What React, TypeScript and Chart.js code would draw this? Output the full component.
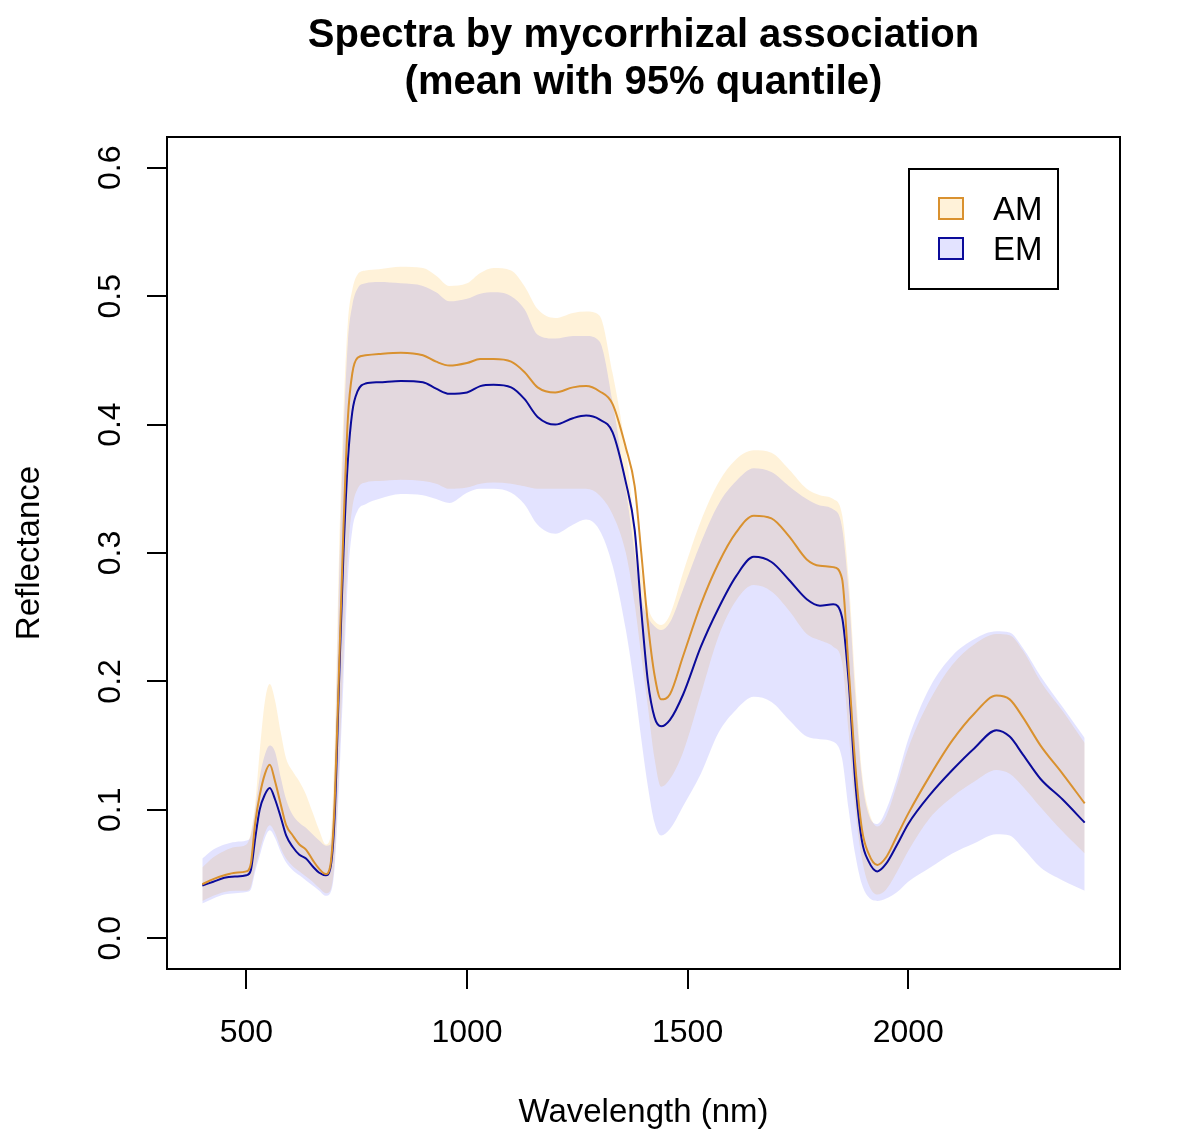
import { useEffect, useRef } from 'react';
import Chart from 'chart.js/auto';

// wavelength grid (nm)
const wavelength = [
	400, 425, 450, 475, 500, 510, 520, 530, 542, 553,
	565, 578, 590, 605, 620, 635, 650, 665, 680, 690,
	700, 710, 720, 730, 740, 752, 770, 800, 850, 900,
	930, 960, 1000, 1030, 1060, 1100, 1130, 1160, 1200, 1240,
	1270, 1300, 1330, 1360, 1380, 1395, 1410, 1425, 1440, 1460,
	1490, 1530, 1570, 1610, 1650, 1690, 1730, 1770, 1800, 1830,
	1850, 1865, 1880, 1895, 1910, 1930, 1950, 1975, 2000, 2050,
	2100, 2150, 2200, 2230, 2260, 2300, 2350, 2400,
];

const amMean = [
	0.042, 0.046, 0.049, 0.051, 0.052, 0.058, 0.09, 0.111, 0.128, 0.135,
	0.122, 0.104, 0.088, 0.08, 0.073, 0.069, 0.061, 0.054, 0.05, 0.056,
	0.105, 0.21, 0.32, 0.405, 0.44, 0.452, 0.454, 0.455, 0.456, 0.454,
	0.449, 0.446, 0.448, 0.451, 0.451, 0.449, 0.441, 0.429, 0.425, 0.429,
	0.43, 0.426, 0.416, 0.382, 0.352, 0.3, 0.245, 0.205, 0.186, 0.19,
	0.22, 0.26, 0.292, 0.316, 0.329, 0.327, 0.313, 0.295, 0.29, 0.289,
	0.28, 0.21, 0.135, 0.085, 0.066, 0.057, 0.063, 0.08, 0.097, 0.127,
	0.154, 0.175, 0.189, 0.186, 0.172, 0.15, 0.128, 0.105,
];

const emMean = [
	0.041, 0.044, 0.047, 0.048, 0.049, 0.053, 0.078, 0.1, 0.112, 0.117,
	0.108, 0.094, 0.08, 0.071, 0.065, 0.062, 0.056, 0.051, 0.049, 0.054,
	0.095, 0.2, 0.3, 0.372, 0.41, 0.426, 0.432, 0.433, 0.434, 0.433,
	0.428, 0.424, 0.425, 0.43, 0.431, 0.429, 0.42, 0.406, 0.4, 0.405,
	0.407, 0.404, 0.394, 0.355, 0.318, 0.255, 0.2, 0.172, 0.165, 0.17,
	0.19, 0.227, 0.257, 0.282, 0.297, 0.293, 0.279, 0.264, 0.259, 0.26,
	0.25, 0.2, 0.122, 0.076, 0.06, 0.052, 0.058, 0.073, 0.089, 0.112,
	0.131, 0.148, 0.162, 0.157, 0.143, 0.124, 0.108, 0.09,
];

// 95% quantile band, AM
const amHigh = [
	0.055, 0.063, 0.068, 0.071, 0.073, 0.082, 0.105, 0.145, 0.185, 0.198,
	0.185, 0.16, 0.14, 0.13, 0.122, 0.112, 0.098, 0.084, 0.073, 0.078,
	0.15, 0.3, 0.41, 0.48, 0.505, 0.517, 0.52, 0.521, 0.523, 0.522,
	0.516, 0.508, 0.51, 0.518, 0.522, 0.52, 0.508, 0.49, 0.483, 0.487,
	0.488, 0.485, 0.44, 0.38, 0.322, 0.285, 0.258, 0.247, 0.244, 0.252,
	0.285, 0.325, 0.355, 0.373, 0.38, 0.378, 0.365, 0.35, 0.345, 0.342,
	0.33, 0.28, 0.2, 0.13, 0.1, 0.087, 0.095, 0.12, 0.148, 0.186,
	0.213, 0.229, 0.237, 0.236, 0.224, 0.2, 0.177, 0.152,
];

const amLow = [
	0.029, 0.033, 0.036, 0.037, 0.037, 0.04, 0.055, 0.068, 0.082, 0.088,
	0.082, 0.07, 0.062, 0.056, 0.052, 0.048, 0.044, 0.039, 0.035, 0.037,
	0.06, 0.13, 0.22, 0.3, 0.335, 0.35, 0.355, 0.356, 0.357, 0.356,
	0.354, 0.35, 0.351, 0.354, 0.355, 0.354, 0.352, 0.35, 0.35, 0.35,
	0.35, 0.345, 0.33, 0.3, 0.26, 0.22, 0.18, 0.14, 0.118, 0.124,
	0.145, 0.19, 0.235, 0.263, 0.275, 0.27, 0.255, 0.237, 0.232, 0.227,
	0.215, 0.16, 0.1, 0.062, 0.042, 0.034, 0.038, 0.052, 0.068, 0.094,
	0.11, 0.122, 0.131, 0.128, 0.118, 0.102, 0.083, 0.066,
];

// 95% quantile band, EM
const emHigh = [
	0.062, 0.069, 0.073, 0.075, 0.076, 0.08, 0.1, 0.125, 0.143, 0.15,
	0.145, 0.125, 0.108, 0.096, 0.09, 0.086, 0.081, 0.076, 0.072, 0.073,
	0.13, 0.28, 0.39, 0.465, 0.493, 0.506, 0.51, 0.511, 0.51, 0.508,
	0.503, 0.496, 0.498, 0.502, 0.503, 0.5, 0.49, 0.47, 0.467, 0.469,
	0.469, 0.465, 0.418, 0.35, 0.3, 0.265, 0.25, 0.243, 0.24, 0.246,
	0.272, 0.308, 0.338, 0.356, 0.366, 0.363, 0.352, 0.342, 0.337, 0.334,
	0.32, 0.27, 0.19, 0.125, 0.097, 0.089, 0.1, 0.125, 0.155, 0.196,
	0.22, 0.233, 0.239, 0.238, 0.226, 0.204, 0.18, 0.156,
];

const emLow = [
	0.027, 0.031, 0.034, 0.035, 0.036, 0.038, 0.052, 0.064, 0.078, 0.084,
	0.078, 0.067, 0.059, 0.053, 0.049, 0.045, 0.041, 0.037, 0.033, 0.035,
	0.055, 0.12, 0.2, 0.28, 0.318, 0.333, 0.338, 0.342, 0.346, 0.345,
	0.342, 0.339, 0.347, 0.35, 0.35, 0.347, 0.338, 0.322, 0.315, 0.322,
	0.326, 0.318, 0.29, 0.24, 0.195, 0.155, 0.118, 0.09, 0.08, 0.085,
	0.103, 0.128, 0.16, 0.178, 0.188, 0.184, 0.17, 0.157, 0.155, 0.153,
	0.14, 0.1, 0.065, 0.042, 0.032, 0.029, 0.031, 0.036, 0.044, 0.055,
	0.066, 0.074, 0.081, 0.08, 0.07, 0.055, 0.045, 0.037,
];

const groups = ['AM', 'EM'];
const xTicks = [500, 1000, 1500, 2000];
const yTicks = [0, 0.1, 0.2, 0.3, 0.4, 0.5, 0.6];

const amLine = '#d9912f';
const emLine = '#0b0b9a';
const amFill = 'rgba(255,165,0,0.15)';
const emFill = 'rgba(0,0,255,0.11)';
const family = '"Liberation Sans", Arial, sans-serif';

const pts = (vals: number[]) => wavelength.map((w, i) => ({ x: w, y: vals[i] }));

// box round the plot and the legend, R style
const boxLegend = {
	id: 'boxLegend',
	afterDraw(chart: any) {
		const { ctx, chartArea: a } = chart;
		ctx.save();
		ctx.strokeStyle = '#000';
		ctx.lineWidth = 2;
		ctx.strokeRect(a.left, a.top, a.right - a.left, a.bottom - a.top);

		const bx = a.right - 211;
		const by = a.top + 32;
		ctx.strokeRect(bx, by, 149, 120);
		const swatches = [
			{ fill: amFill, stroke: amLine },
			{ fill: emFill, stroke: emLine },
		];
		ctx.font = `33px ${family}`;
		ctx.textBaseline = 'middle';
		ctx.textAlign = 'left';
		groups.forEach((g, i) => {
			const cy = by + 40 + i * 40;
			ctx.fillStyle = '#fff';
			ctx.fillRect(bx + 30, cy - 11, 24, 21);
			ctx.fillStyle = swatches[i].fill;
			ctx.fillRect(bx + 30, cy - 11, 24, 21);
			ctx.strokeStyle = swatches[i].stroke;
			ctx.strokeRect(bx + 30, cy - 11, 24, 21);
			ctx.fillStyle = '#000';
			ctx.fillText(g, bx + 84, cy + 2);
		});
		ctx.restore();
	},
};

export default function App() {
	const canvasRef = useRef<HTMLCanvasElement | null>(null);

	useEffect(() => {
		if (!canvasRef.current) return;
		const band = { borderWidth: 0, borderColor: 'transparent', pointRadius: 0 };
		const chart = new Chart(canvasRef.current, {
			type: 'line',
			data: {
				datasets: [
					{ label: 'AM', data: pts(amMean), borderColor: amLine, borderWidth: 2, pointRadius: 0, fill: false },
					{ label: 'EM', data: pts(emMean), borderColor: emLine, borderWidth: 2, pointRadius: 0, fill: false },
					{ label: 'EM low', data: pts(emLow), ...band, fill: false },
					{ label: 'EM high', data: pts(emHigh), ...band, backgroundColor: emFill, fill: 2 },
					{ label: 'AM low', data: pts(amLow), ...band, fill: false },
					{ label: 'AM high', data: pts(amHigh), ...band, backgroundColor: amFill, fill: 4 },
				],
			},
			options: {
				responsive: false,
				animation: false,
				devicePixelRatio: 1,
				layout: { padding: { left: 0, right: 80, top: 0, bottom: 0 } },
				elements: { line: { cubicInterpolationMode: 'monotone' } },
				plugins: {
					legend: { display: false },
					tooltip: { enabled: false },
					title: {
						display: true,
						fullSize: false,
						text: ['Spectra by mycorrhizal association', '(mean with 95% quantile)'],
						color: '#000',
						font: { family, size: 40, weight: 'bold', lineHeight: 1.165 },
						padding: { top: 13, bottom: 30.8 },
					},
				},
				scales: {
					x: {
						type: 'linear',
						min: 320,
						max: 2480,
						afterBuildTicks: (s: any) => { s.ticks = xTicks.map((v) => ({ value: v })); },
						afterFit: (s: any) => { s.height = 175; },
						border: { display: false },
						grid: { drawOnChartArea: false, drawTicks: true, tickLength: 20, color: '#000', lineWidth: 2 },
						ticks: {
							autoSkip: false,
							maxRotation: 0,
							color: '#000',
							padding: 25,
							font: { family, size: 32 },
							callback: (v: any) => String(v),
						},
						title: {
							display: true,
							text: 'Wavelength (nm)',
							color: '#000',
							font: { family, size: 33 },
							padding: { top: 0, bottom: 11.6 },
						},
					},
					y: {
						type: 'linear',
						min: -0.024,
						max: 0.624,
						afterBuildTicks: (s: any) => { s.ticks = yTicks.map((v) => ({ value: v })); },
						afterFit: (s: any) => { s.width = 167; },
						border: { display: false },
						grid: { drawOnChartArea: false, drawTicks: true, tickLength: 20, color: '#000', lineWidth: 2 },
						ticks: {
							autoSkip: false,
							minRotation: 90,
							maxRotation: 90,
							crossAlign: 'center',
							color: '#000',
							padding: 14,
							font: { family, size: 32 },
							callback: (v: any) => Number(v).toFixed(1),
						},
						title: {
							display: true,
							text: 'Reflectance',
							color: '#000',
							font: { family, size: 33 },
							padding: { top: 10, bottom: 0 },
						},
					},
				},
			},
			plugins: [boxLegend],
		} as any);
		return () => {
			chart.destroy();
		};
	}, []);

	return (
		<div style={{ position: 'absolute', left: 0, top: 0, width: 1200, height: 1144, background: '#fff' }}>
			<canvas ref={canvasRef} width={1200} height={1144} />
		</div>
	);
}
